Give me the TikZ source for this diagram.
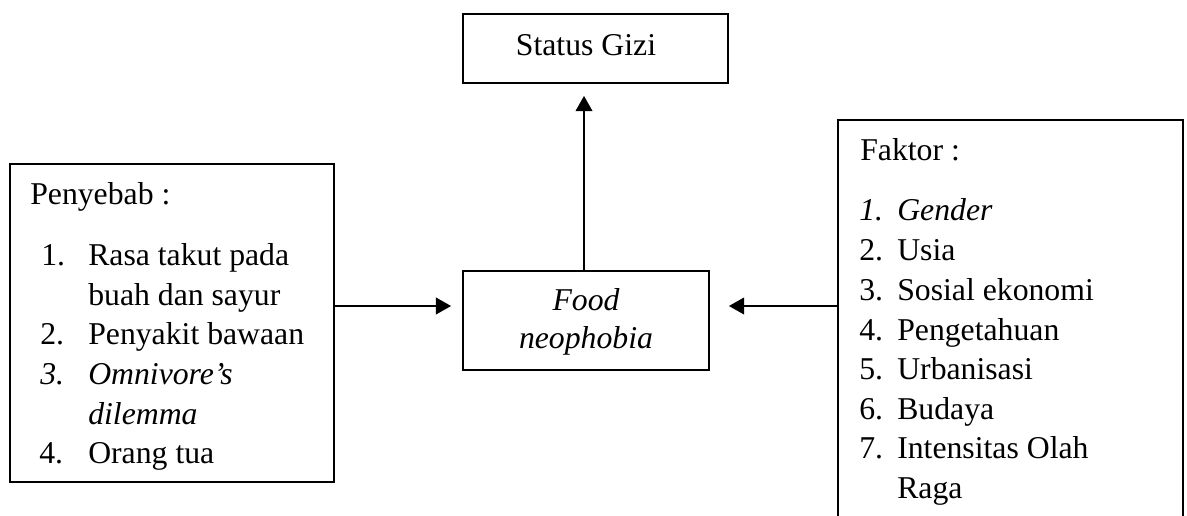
\documentclass[tikz,border=0pt]{standalone}
\usepackage{fontspec}
\setmainfont{Liberation Serif}
\usetikzlibrary{arrows.meta}
\begin{document}
\begin{tikzpicture}[x=0.75pt,y=-0.75pt,
  box/.style={draw,line width=1.3pt,rectangle,inner sep=0pt},
  txt/.style={inner sep=0pt,anchor=base west,font=\fontsize{23.8}{25.7}\selectfont},
  ctxt/.style={inner sep=0pt,anchor=base,font=\fontsize{23.8}{25.7}\selectfont},
  conn/.style={line width=1.6pt,-{Triangle[length=11.5pt,width=12.5pt]}}]
\useasboundingbox (0,0) rectangle (1187,515);
% boxes
\node[box,minimum width=198.75pt,minimum height=51.75pt] (status) at (595.5,48.5) {};
\node[box,minimum width=184.5pt,minimum height=74.25pt] (food) at (586,320.5) {};
\node[box,minimum width=243pt,minimum height=238.5pt] (pen) at (172,323) {};
\node[draw=none,rectangle,inner sep=0pt,minimum width=258.75pt,minimum height=307.5pt] (fak) at (1010.5,325) {};
\draw[line width=1.3pt] (fak.south west) -- (fak.north west) -- (fak.north east) -- (fak.south east);
% texts
\node[ctxt] (t0) at (586,55) {Status Gizi};
\node[ctxt] (f1) at (586,310) {\itshape Food};
\node[ctxt] (f2) at (586,348) {\itshape neophobia};
\node[txt] (p0) at (30,204) {Penyebab :};
\node[txt] (p1n) at (41,265) {1.};
\node[txt] (p1) at (88,265) {Rasa takut pada};
\node[txt] (p1b) at (88,305) {buah dan sayur};
\node[txt] (p2n) at (40,344) {2.};
\node[txt] (p2) at (88,344) {Penyakit bawaan};
\node[txt] (p3n) at (40,384) {\itshape 3.};
\node[txt] (p3) at (88,384) {\itshape Omnivore’s};
\node[txt] (p3b) at (88,424) {\itshape dilemma};
\node[txt] (p4n) at (39,463) {4.};
\node[txt] (p4) at (88,463) {Orang tua};
\node[txt] (k0) at (860,160) {Faktor :};
\node[txt] (k1n) at (859,220) {\itshape 1.};
\node[txt] (k1) at (897,220) {\itshape Gender};
\node[txt] (k2n) at (859,260) {2.};
\node[txt] (k2) at (897,260) {Usia};
\node[txt] (k3n) at (859,300) {3.};
\node[txt] (k3) at (897,300) {Sosial ekonomi};
\node[txt] (k4n) at (859,340) {4.};
\node[txt] (k4) at (897,340) {Pengetahuan};
\node[txt] (k5n) at (859,379) {5.};
\node[txt] (k5) at (897,379) {Urbanisasi};
\node[txt] (k6n) at (859,419) {6.};
\node[txt] (k6) at (897,419) {Budaya};
\node[txt] (k7n) at (859,458) {7.};
\node[txt] (k7) at (897,458) {Intensitas Olah};
\node[txt] (k7b) at (897,498) {Raga};
% connectors
\coordinate (ay) at (0,306);
\coordinate (ux) at (584,0);
\draw[conn,shorten >=8.25pt] (pen.east |- ay) -- (food.west |- ay);
\draw[conn,shorten >=14.25pt] (fak.west |- ay) -- (food.east |- ay);
\draw[conn,shorten >=9pt] (food.north -| ux) -- (status.south -| ux);
\end{tikzpicture}
\end{document}
